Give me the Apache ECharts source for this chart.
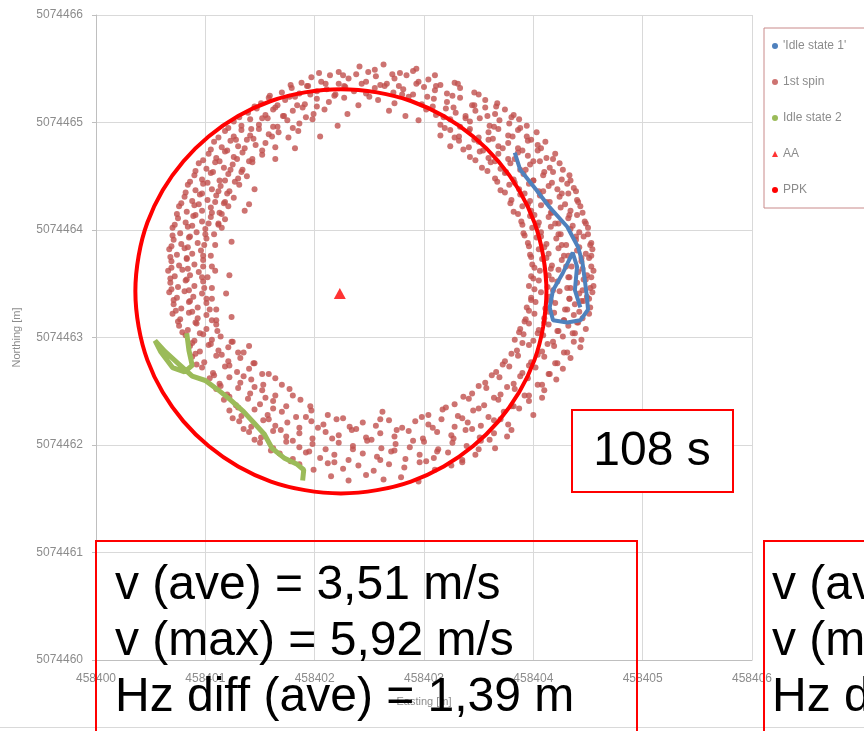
<!DOCTYPE html>
<html><head><meta charset="utf-8">
<script src="https://cdn.jsdelivr.net/npm/echarts/dist/echarts.min.js"></script>
<style>html,body{margin:0;padding:0;background:#fff}#c{width:864px;height:731px}</style>
</head><body><div id="c"></div>
<script>
// ---------- chart values ----------
const eastingRange = [458400, 458406];
const northingRange = [5074460, 5074466];
const tickStep = 1;
const legendNames = ["'Idle state 1'", "1st spin", "Idle state 2", "AA", "PPK"];
const axisNames = ["Easting [m]", "Northing [m]"];
const durationLabel = "108 s";
const statLines = ["v (ave) = 3,51 m/s", "v (max) = 5,92 m/s", "Hz diff (ave) = 1,39 m"];
const statLinesRight = ["v (ave) = ", "v (max) = ", "Hz diff (ave) = "];

const aaPoint = [[458402.23, 5074463.41]];

const idle1Path = [
[458403.83,5074464.72],[458403.88,5074464.56],[458404.03,5074464.37],[458404.15,5074464.21],[458404.31,5074464.03],
[458404.41,5074463.84],[458404.45,5074463.69],[458404.47,5074463.54],[458404.49,5074463.38],[458404.50,5074463.26],
[458404.43,5074463.16],[458404.31,5074463.14],[458404.18,5074463.16],[458404.15,5074463.28],[458404.18,5074463.44],
[458404.27,5074463.60],[458404.36,5074463.79],[458404.40,5074463.66],[458404.38,5074463.44],[458404.43,5074463.28]
];

const idle2Path = [
[458400.83,5074463.04],[458400.85,5074462.88],[458400.88,5074462.74],[458400.81,5074462.68],[458400.70,5074462.72],
[458400.59,5074462.87],[458400.54,5074462.97],[458400.63,5074462.87],[458400.75,5074462.76],[458400.88,5074462.64],
[458401.00,5074462.60],[458401.12,5074462.51],[458401.23,5074462.42],[458401.35,5074462.31],[458401.45,5074462.20],
[458401.54,5074462.10],[458401.61,5074461.97],[458401.72,5074461.88],[458401.84,5074461.82],[458401.90,5074461.77],
[458401.89,5074461.67]
];

const ppkCircle = [
[458404.09,5074463.10],[458404.12,5074463.43],[458404.09,5074463.76],[458404.01,5074464.07],[458403.87,5074464.37],
[458403.68,5074464.64],[458403.45,5074464.87],[458403.18,5074465.06],[458402.88,5074465.20],[458402.57,5074465.28],
[458402.24,5074465.31],[458401.91,5074465.28],[458401.60,5074465.20],[458401.30,5074465.06],[458401.03,5074464.87],
[458400.80,5074464.64],[458400.61,5074464.37],[458400.47,5074464.07],[458400.39,5074463.76],[458400.36,5074463.43],
[458400.39,5074463.10],[458400.47,5074462.79],[458400.61,5074462.49],[458400.80,5074462.22],[458401.03,5074461.99],
[458401.30,5074461.80],[458401.60,5074461.66],[458401.91,5074461.58],[458402.24,5074461.55],[458402.57,5074461.58],
[458402.88,5074461.66],[458403.18,5074461.80],[458403.45,5074461.99],[458403.68,5074462.22],[458403.87,5074462.49],
[458404.01,5074462.79],[458404.09,5074463.10],[458404.12,5074463.43],[458404.09,5074463.76]
];

const spinPointsA = [
[458402.22,5074465.47],[458402.41,5074465.52],[458402.55,5074465.49],[458402.63,5074465.54],[458402.78,5074465.46],[458402.93,5074465.50],
[458401.88,5074465.37],[458401.97,5074465.42],[458402.06,5074465.38],[458402.14,5074465.44],[458402.22,5074465.36],[458402.31,5074465.41],[458402.38,5074465.45],[458402.47,5074465.38],[458402.56,5074465.43],[458402.66,5074465.36],[458402.73,5074465.41],[458402.84,5074465.44],[458402.95,5074465.38],[458403.04,5074465.40],[458403.15,5074465.35],[458403.28,5074465.37],
[458401.70,5074465.28],[458401.79,5074465.32],[458401.86,5074465.27],[458401.94,5074465.34],[458402.02,5074465.29],[458402.11,5074465.31],[458402.19,5074465.26],[458402.28,5074465.33],[458402.36,5074465.29],[458402.47,5074465.27],[458402.55,5074465.32],[458402.64,5074465.34],[458402.72,5074465.28],[458402.81,5074465.31],[458402.90,5074465.26],[458403.00,5074465.33],[458403.10,5074465.30],[458403.21,5074465.27],[458403.33,5074465.32],[458403.46,5074465.28],
[458401.51,5074465.18],[458401.58,5074465.23],[458401.66,5074465.16],[458401.73,5074465.21],[458401.82,5074465.24],[458401.91,5074465.17],[458402.02,5074465.22],[458402.13,5074465.19],[458402.27,5074465.23],[458402.40,5074465.16],[458402.58,5074465.21],[458402.73,5074465.18],[458402.86,5074465.24],[458402.98,5074465.17],[458403.09,5074465.22],[458403.21,5074465.19],[458403.33,5074465.23],[458403.44,5074465.16],[458403.56,5074465.21],[458403.67,5074465.18],
[458401.39,5074465.09],[458401.47,5074465.13],[458401.55,5074465.07],[458401.62,5074465.12],[458401.71,5074465.06],[458401.80,5074465.11],[458401.89,5074465.14],[458401.99,5074465.08],[458402.09,5074465.12],
[458402.30,5074465.08],[458402.68,5074465.11],[458402.83,5074465.06],
[458403.02,5074465.12],[458403.11,5074465.07],[458403.20,5074465.13],[458403.29,5074465.09],[458403.38,5074465.06],[458403.47,5074465.11],[458403.56,5074465.14],[458403.65,5074465.08],[458403.74,5074465.12],[458403.82,5074465.07],
[458401.26,5074465.01],[458401.33,5074464.97],[458401.41,5074465.03],[458401.49,5074464.98],[458401.57,5074465.04],[458401.66,5074464.96],[458401.75,5074465.02],[458401.86,5074464.99],[458401.98,5074465.03],
[458402.21,5074464.97],[458402.95,5074465.02],
[458403.15,5074464.98],[458403.24,5074465.03],[458403.33,5074464.96],[458403.42,5074465.01],[458403.51,5074465.04],[458403.60,5074464.97],[458403.69,5074465.02],[458403.78,5074464.99],[458403.87,5074465.03],[458403.94,5074464.97],
[458401.18,5074464.92],[458401.26,5074464.87],[458401.33,5074464.93],[458401.41,5074464.88],[458401.49,5074464.94],[458401.58,5074464.89],[458401.67,5074464.91],[458401.76,5074464.86],[458401.85,5074464.92],
[458403.15,5074464.88],[458403.24,5074464.93],[458403.32,5074464.87],[458403.41,5074464.92],[458403.50,5074464.86],[458403.59,5074464.91],[458403.68,5074464.94],[458403.77,5074464.88],[458403.86,5074464.93],[458403.94,5074464.87],[458404.03,5074464.91],
[458402.05,5074464.87],
[458401.08,5074464.82],[458401.15,5074464.77],[458401.23,5074464.83],[458401.30,5074464.78],[458401.38,5074464.84],[458401.46,5074464.79],[458401.55,5074464.81],[458401.64,5074464.77],
[458403.24,5074464.78],[458403.32,5074464.83],[458403.41,5074464.77],[458403.50,5074464.82],[458403.59,5074464.84],[458403.68,5074464.78],[458403.77,5074464.81],[458403.86,5074464.76],[458403.95,5074464.83],[458404.04,5074464.79],[458404.11,5074464.82],
[458401.82,5074464.76],
[458401.03,5074464.71],[458401.10,5074464.67],[458401.18,5074464.73],[458401.26,5074464.68],[458401.34,5074464.72],[458401.43,5074464.66],[458401.52,5074464.70],
[458403.42,5074464.68],[458403.51,5074464.73],[458403.59,5074464.67],[458403.68,5074464.71],[458403.77,5074464.66],[458403.86,5074464.72],[458403.95,5074464.69],[458404.04,5074464.74],[458404.12,5074464.67],[458404.20,5074464.71],
[458401.64,5074464.66],
[458400.94,5074464.62],[458401.01,5074464.57],[458401.09,5074464.63],[458401.17,5074464.58],[458401.25,5074464.61],[458401.34,5074464.56],[458401.43,5074464.63],
[458403.53,5074464.58],[458403.61,5074464.63],[458403.70,5074464.57],[458403.79,5074464.62],[458403.88,5074464.56],[458403.97,5074464.61],[458404.06,5074464.64],[458404.15,5074464.58],[458404.24,5074464.62],
[458400.90,5074464.51],[458400.97,5074464.47],[458401.05,5074464.53],[458401.13,5074464.46],[458401.21,5074464.52],[458401.30,5074464.48],[458401.38,5074464.50],
[458403.65,5074464.48],[458403.74,5074464.53],[458403.82,5074464.47],[458403.91,5074464.52],[458404.00,5074464.46],[458404.09,5074464.51],[458404.18,5074464.54],[458404.26,5074464.47],[458404.33,5074464.51],
[458400.84,5074464.42],[458400.91,5074464.37],[458400.98,5074464.43],[458401.06,5074464.38],[458401.14,5074464.41],[458401.22,5074464.36],[458401.31,5074464.42],
[458403.70,5074464.37],[458403.78,5074464.42],[458403.87,5074464.38],[458403.96,5074464.43],[458404.05,5074464.36],[458404.14,5074464.41],[458404.22,5074464.38],[458404.31,5074464.43],[458404.37,5074464.39],
[458401.45,5074464.38],
[458400.81,5074464.31],[458400.88,5074464.27],[458400.95,5074464.33],[458401.02,5074464.28],[458401.10,5074464.32],[458401.18,5074464.26],[458401.26,5074464.30],
[458403.80,5074464.28],[458403.88,5074464.33],[458403.97,5074464.27],[458404.06,5074464.32],[458404.15,5074464.26],[458404.24,5074464.31],[458404.32,5074464.34],[458404.40,5074464.28],
[458400.76,5074464.22],[458400.83,5074464.17],[458400.90,5074464.23],[458400.97,5074464.18],[458401.05,5074464.21],[458401.13,5074464.16],[458401.21,5074464.22],
[458403.82,5074464.17],[458403.90,5074464.22],[458403.98,5074464.18],[458404.07,5074464.23],[458404.16,5074464.16],[458404.25,5074464.21],[458404.34,5074464.18],[458404.43,5074464.22],
[458401.36,5074464.18],[458401.40,5074464.24],
[458400.75,5074464.11],[458400.82,5074464.07],[458400.89,5074464.13],[458400.97,5074464.08],[458401.05,5074464.12],[458401.12,5074464.06],[458401.18,5074464.10],
[458403.89,5074464.08],[458403.97,5074464.13],[458404.05,5074464.07],[458404.14,5074464.12],[458404.23,5074464.06],[458404.32,5074464.11],[458404.40,5074464.14],[458404.47,5074464.08],
[458400.70,5074464.02],[458400.77,5074463.97],[458400.84,5074464.03],[458400.92,5074463.98],[458401.00,5074464.01],[458401.08,5074463.96],[458401.15,5074464.02],
[458403.91,5074463.97],[458403.99,5074464.02],[458404.07,5074463.98],[458404.16,5074464.03],[458404.25,5074463.96],[458404.34,5074464.01],[458404.42,5074463.98],[458404.50,5074464.02],
[458400.71,5074463.91],[458400.78,5074463.87],[458400.85,5074463.93],[458400.93,5074463.88],[458401.01,5074463.92],[458401.09,5074463.86],
[458403.95,5074463.88],[458404.03,5074463.93],[458404.12,5074463.87],[458404.21,5074463.92],[458404.30,5074463.86],[458404.39,5074463.91],[458404.46,5074463.94],[458404.53,5074463.88],
[458401.24,5074463.89],
[458400.67,5074463.82],[458400.74,5074463.77],[458400.81,5074463.83],[458400.88,5074463.78],[458400.96,5074463.81],[458401.05,5074463.76],
[458403.97,5074463.77],[458404.05,5074463.82],[458404.14,5074463.78],[458404.23,5074463.83],[458404.32,5074463.76],[458404.40,5074463.81],[458404.48,5074463.78],[458404.54,5074463.82],
[458400.69,5074463.71],[458400.76,5074463.67],[458400.83,5074463.73],[458400.90,5074463.68],[458400.98,5074463.72],[458401.06,5074463.66],
[458403.99,5074463.68],[458404.08,5074463.73],[458404.17,5074463.67],[458404.26,5074463.72],[458404.35,5074463.66],[458404.44,5074463.71],[458404.51,5074463.74],
[458400.66,5074463.62],[458400.72,5074463.57],[458400.79,5074463.63],[458400.86,5074463.58],[458400.94,5074463.61],[458401.02,5074463.56],[458401.09,5074463.62],
[458403.98,5074463.57],[458404.06,5074463.62],[458404.14,5074463.58],[458404.23,5074463.63],[458404.32,5074463.56],[458404.41,5074463.61],[458404.49,5074463.58],[458404.55,5074463.62],
[458401.22,5074463.58],
[458400.68,5074463.51],[458400.75,5074463.47],[458400.82,5074463.53],[458400.90,5074463.48],[458400.98,5074463.52],[458401.06,5074463.46],
[458403.96,5074463.48],[458404.05,5074463.53],[458404.13,5074463.47],[458404.22,5074463.52],[458404.31,5074463.46],[458404.40,5074463.51],[458404.48,5074463.54],[458404.55,5074463.48],
[458400.67,5074463.42],[458400.74,5074463.37],[458400.81,5074463.43],[458400.89,5074463.38],[458400.97,5074463.41],[458401.06,5074463.36],
[458403.98,5074463.37],[458404.07,5074463.42],[458404.15,5074463.38],[458404.24,5074463.43],[458404.33,5074463.36],[458404.42,5074463.41],[458404.49,5074463.38],[458404.54,5074463.42],
[458401.19,5074463.41],
[458400.71,5074463.31],[458400.78,5074463.27],[458400.85,5074463.33],[458400.93,5074463.28],[458401.01,5074463.32],[458401.10,5074463.26],
[458403.94,5074463.28],[458404.02,5074463.33],[458404.11,5074463.27],[458404.20,5074463.32],[458404.29,5074463.26],[458404.38,5074463.31],[458404.46,5074463.34],[458404.52,5074463.28],
[458400.70,5074463.22],[458400.77,5074463.17],[458400.85,5074463.23],[458400.93,5074463.18],[458401.01,5074463.21],[458401.10,5074463.16],
[458403.93,5074463.17],[458404.01,5074463.22],[458404.10,5074463.18],[458404.19,5074463.23],[458404.28,5074463.16],[458404.37,5074463.21],[458404.45,5074463.18],[458404.51,5074463.22],
[458401.24,5074463.19],
[458400.76,5074463.11],[458400.84,5074463.07],[458400.92,5074463.13],[458401.01,5074463.08],[458401.10,5074463.12],
[458403.88,5074463.08],[458403.96,5074463.13],[458404.05,5074463.07],[458404.14,5074463.12],[458404.23,5074463.06],[458404.32,5074463.11],[458404.41,5074463.14],[458404.48,5074463.08],
[458400.82,5074463.02],[458400.90,5074462.97],[458400.98,5074463.03],[458401.06,5074462.98],[458401.14,5074463.01],[458401.24,5074462.96],
[458403.83,5074462.98],[458403.91,5074463.03],[458404.00,5074462.97],[458404.09,5074463.02],[458404.18,5074462.96],[458404.27,5074463.01],[458404.36,5074463.04],[458404.44,5074462.98],
[458400.86,5074462.92],[458400.95,5074462.87],[458401.03,5074462.93],[458401.12,5074462.88],[458401.21,5074462.91],[458401.30,5074462.86],[458401.40,5074462.92],
[458403.85,5074462.88],[458403.96,5074462.93],[458404.08,5074462.87],[458404.19,5074462.92],[458404.31,5074462.86],[458404.43,5074462.91],
[458400.88,5074462.82],[458400.99,5074462.77],[458401.10,5074462.83],[458401.21,5074462.78],[458401.32,5074462.81],[458401.44,5074462.76],
[458403.74,5074462.78],[458403.86,5074462.83],[458403.98,5074462.77],[458404.10,5074462.82],[458404.22,5074462.76],[458404.34,5074462.81],
[458400.97,5074462.72],[458401.07,5074462.67],[458401.18,5074462.73],[458401.29,5074462.68],[458401.40,5074462.71],[458401.52,5074462.66],
[458403.66,5074462.68],[458403.78,5074462.73],[458403.90,5074462.67],[458404.02,5074462.72],[458404.14,5074462.66],[458404.27,5074462.71],
[458401.64,5074462.62],
[458401.04,5074462.62],[458401.13,5074462.57],[458401.22,5074462.63],[458401.32,5074462.58],[458401.42,5074462.61],[458401.53,5074462.56],
[458403.56,5074462.58],[458403.69,5074462.63],[458403.82,5074462.57],[458403.95,5074462.62],[458404.08,5074462.56],[458404.21,5074462.61],
[458401.10,5074462.52],[458401.20,5074462.47],[458401.30,5074462.53],[458401.41,5074462.48],[458401.52,5074462.51],[458401.64,5074462.46],[458401.77,5074462.52],
[458403.44,5074462.48],[458403.57,5074462.53],[458403.70,5074462.47],[458403.83,5074462.52],[458403.96,5074462.46],[458404.10,5074462.51],
[458401.17,5074462.42],[458401.28,5074462.37],[458401.39,5074462.43],[458401.50,5074462.38],[458401.62,5074462.41],[458401.74,5074462.36],[458401.87,5074462.42],
[458403.28,5074462.38],[458403.41,5074462.43],[458403.55,5074462.37],[458403.68,5074462.42],[458403.82,5074462.36],[458403.96,5074462.41],[458404.08,5074462.44],
[458401.22,5074462.32],[458401.33,5074462.27],[458401.45,5074462.33],[458401.57,5074462.28],[458401.70,5074462.31],[458401.83,5074462.26],[458401.97,5074462.32],[458402.12,5074462.28],
[458403.04,5074462.28],[458403.17,5074462.33],[458403.31,5074462.27],[458403.45,5074462.32],[458403.59,5074462.26],[458403.73,5074462.31],[458403.87,5074462.34],[458404.00,5074462.28],
[458402.62,5074462.31],
[458401.31,5074462.22],[458401.42,5074462.17],[458401.53,5074462.23],[458401.64,5074462.18],[458401.75,5074462.21],[458401.86,5074462.16],[458401.97,5074462.22],[458402.08,5074462.19],[458402.20,5074462.24],[458402.32,5074462.17],[458402.44,5074462.21],[458402.56,5074462.18],[458402.68,5074462.23],[458402.80,5074462.16],[458402.92,5074462.22],[458403.04,5074462.19],[458403.16,5074462.24],[458403.28,5074462.17],[458403.40,5074462.21],[458403.52,5074462.18],[458403.64,5074462.23],[458403.77,5074462.19],
[458401.40,5074462.12],[458401.51,5074462.07],[458401.62,5074462.13],[458401.74,5074462.08],[458401.86,5074462.11],[458401.98,5074462.06],[458402.10,5074462.12],[458402.22,5074462.09],[458402.34,5074462.14],[458402.47,5074462.07],[458402.60,5074462.11],[458402.73,5074462.08],[458402.86,5074462.13],[458402.99,5074462.06],[458403.12,5074462.12],[458403.25,5074462.09],[458403.38,5074462.14],[458403.51,5074462.07],[458403.64,5074462.11],[458403.76,5074462.08],
[458401.50,5074462.02],[458401.62,5074461.97],[458401.74,5074462.03],[458401.86,5074461.98],[458401.98,5074462.01],[458402.10,5074461.96],[458402.22,5074462.02],[458402.35,5074461.99],[458402.48,5074462.04],[458402.61,5074461.97],[458402.74,5074462.01],[458402.87,5074461.98],[458403.00,5074462.03],[458403.13,5074461.96],[458403.26,5074462.02],[458403.39,5074461.99],[458403.52,5074462.04],[458403.65,5074461.97],
[458401.68,5074461.92],[458401.80,5074461.87],[458401.92,5074461.93],[458402.05,5074461.88],[458402.18,5074461.91],[458402.31,5074461.86],[458402.44,5074461.92],[458402.57,5074461.89],[458402.70,5074461.94],[458402.83,5074461.87],[458402.96,5074461.91],[458403.09,5074461.88],[458403.22,5074461.93],[458403.35,5074461.86],[458403.47,5074461.91],
[458401.86,5074461.82],[458401.99,5074461.77],[458402.12,5074461.83],[458402.26,5074461.78],[458402.40,5074461.81],[458402.54,5074461.76],[458402.68,5074461.82],[458402.82,5074461.79],[458402.96,5074461.84],[458403.10,5074461.77],[458403.25,5074461.81],
[458402.15,5074461.71],[458402.31,5074461.67],[458402.47,5074461.72],[458402.63,5074461.68],[458402.79,5074461.70],[458402.95,5074461.66]
];

const spinPointsB = [
[458402.04,5074465.46],[458402.26,5074465.44],[458402.49,5074465.47],[458402.71,5074465.45],[458402.90,5074465.48],[458403.10,5074465.44],
[458401.78,5074465.35],[458401.93,5074465.34],[458402.10,5074465.36],[458402.27,5074465.34],[458402.43,5074465.36],[458402.60,5074465.35],[458402.77,5074465.34],[458402.93,5074465.36],[458403.11,5074465.34],[458403.31,5074465.36],
[458401.59,5074465.25],[458401.77,5074465.24],[458401.96,5074465.26],[458402.18,5074465.25],[458402.50,5074465.24],[458402.80,5074465.26],[458403.03,5074465.24],[458403.26,5074465.25],[458403.50,5074465.26],
[458401.45,5074465.15],[458401.64,5074465.14],[458401.84,5074465.16],[458402.02,5074465.15],[458403.08,5074465.15],[458403.27,5074465.14],[458403.46,5074465.16],[458403.66,5074465.15],
[458401.31,5074465.05],[458401.52,5074465.04],[458401.72,5074465.06],[458401.92,5074465.05],[458403.18,5074465.05],[458403.38,5074465.04],[458403.58,5074465.06],[458403.80,5074465.05],
[458401.21,5074464.95],[458401.42,5074464.94],[458401.62,5074464.96],[458401.80,5074464.95],[458403.19,5074464.95],[458403.42,5074464.94],[458403.64,5074464.96],[458403.88,5074464.95],
[458401.12,5074464.86],[458401.28,5074464.84],[458401.44,5074464.85],[458401.61,5074464.87],
[458401.05,5074464.75],[458401.20,5074464.74],[458401.36,5074464.76],[458401.52,5074464.74],
[458400.98,5074464.65],[458401.13,5074464.64],[458401.29,5074464.66],[458401.40,5074464.64],
[458400.91,5074464.55],[458401.07,5074464.54],[458401.23,5074464.56],[458401.33,5074464.54],
[458400.86,5074464.45],[458401.02,5074464.44],[458401.18,5074464.46],[458401.27,5074464.45],
[458400.82,5074464.35],[458400.97,5074464.34],[458401.12,5074464.36],[458401.20,5074464.34],
[458400.78,5074464.25],[458400.94,5074464.24],[458401.09,5074464.26],[458401.17,5074464.25],
[458400.74,5074464.15],[458400.91,5074464.14],[458401.06,5074464.16],[458401.15,5074464.15],
[458400.72,5074464.05],[458400.88,5074464.04],[458401.03,5074464.06],[458401.12,5074464.05],
[458400.70,5074463.95],[458400.86,5074463.94],[458401.00,5074463.96],
[458400.69,5074463.85],[458400.84,5074463.84],[458400.99,5074463.86],
[458400.68,5074463.75],[458400.83,5074463.74],[458400.98,5074463.76],
[458400.69,5074463.65],[458400.84,5074463.64],[458400.98,5074463.66],
[458400.68,5074463.55],[458400.83,5074463.54],[458400.97,5074463.56],
[458400.69,5074463.45],[458400.85,5074463.44],[458400.99,5074463.46],
[458400.71,5074463.35],[458400.86,5074463.34],[458401.01,5074463.36],
[458400.73,5074463.25],[458400.88,5074463.24],[458401.04,5074463.26],
[458400.75,5074463.15],[458400.91,5074463.14],[458401.06,5074463.16],
[458400.79,5074463.05],[458400.95,5074463.04],[458401.11,5074463.06],
[458403.28,5074464.86],[458403.46,5074464.84],[458403.63,5074464.85],[458403.81,5074464.87],[458403.98,5074464.84],
[458403.36,5074464.75],[458403.54,5074464.74],[458403.72,5074464.76],[458403.90,5074464.74],[458404.07,5074464.76],
[458403.47,5074464.65],[458403.65,5074464.64],[458403.83,5074464.66],[458404.00,5074464.64],[458404.18,5074464.66],
[458403.58,5074464.55],[458403.75,5074464.54],[458403.93,5074464.56],[458404.10,5074464.54],[458404.27,5074464.56],
[458403.67,5074464.45],[458403.83,5074464.44],[458404.00,5074464.46],[458404.17,5074464.44],[458404.34,5074464.46],
[458403.74,5074464.35],[458403.92,5074464.34],[458404.09,5074464.36],[458404.26,5074464.34],[458404.39,5074464.36],
[458403.79,5074464.25],[458403.95,5074464.24],[458404.12,5074464.26],[458404.29,5074464.24],[458404.41,5074464.26],
[458403.86,5074464.15],[458404.01,5074464.14],[458404.17,5074464.16],[458404.33,5074464.14],[458404.45,5074464.16],
[458403.90,5074464.05],[458404.04,5074464.04],[458404.20,5074464.06],[458404.36,5074464.04],[458404.48,5074464.06],
[458403.92,5074463.95],[458404.07,5074463.94],[458404.23,5074463.96],[458404.39,5074463.94],[458404.50,5074463.96],
[458403.96,5074463.85],[458404.10,5074463.84],[458404.26,5074463.86],[458404.42,5074463.84],[458404.52,5074463.86],
[458403.98,5074463.75],[458404.12,5074463.74],[458404.28,5074463.76],[458404.44,5074463.74],[458404.53,5074463.76],
[458404.01,5074463.65],[458404.16,5074463.64],[458404.30,5074463.66],[458404.45,5074463.64],[458404.53,5074463.66],
[458404.00,5074463.55],[458404.17,5074463.54],[458404.33,5074463.56],[458404.46,5074463.54],[458404.53,5074463.56],
[458404.01,5074463.45],[458404.18,5074463.44],[458404.34,5074463.46],[458404.45,5074463.44],[458404.52,5074463.46],
[458403.98,5074463.35],[458404.16,5074463.34],[458404.33,5074463.36],[458404.44,5074463.34],[458404.51,5074463.36],
[458403.96,5074463.25],[458404.14,5074463.24],[458404.31,5074463.26],[458404.42,5074463.24],
[458403.92,5074463.15],[458404.10,5074463.14],[458404.28,5074463.16],[458404.40,5074463.14],
[458403.87,5074463.05],[458404.04,5074463.04],[458404.22,5074463.06],[458404.38,5074463.04],
[458400.88,5074462.95],[458401.05,5074462.94],[458401.25,5074462.96],
[458400.91,5074462.85],[458401.15,5074462.84],[458401.35,5074462.86],
[458400.92,5074462.75],[458401.22,5074462.74],[458401.45,5074462.76],
[458401.08,5074462.65],[458401.35,5074462.64],[458401.58,5074462.66],
[458401.14,5074462.55],[458401.45,5074462.54],[458401.70,5074462.56],
[458401.22,5074462.45],[458401.55,5074462.44],[458401.80,5074462.46],
[458401.30,5074462.35],[458401.62,5074462.34],[458401.96,5074462.36],
[458403.90,5074462.95],[458404.13,5074462.94],[458404.37,5074462.96],
[458403.80,5074462.85],[458404.04,5074462.84],[458404.28,5074462.86],
[458403.72,5074462.75],[458403.96,5074462.74],[458404.20,5074462.76],
[458403.62,5074462.65],[458403.88,5074462.64],[458404.15,5074462.66],
[458403.50,5074462.55],[458403.76,5074462.54],[458404.04,5074462.56],
[458403.36,5074462.45],[458403.64,5074462.44],[458403.92,5074462.46],
[458403.20,5074462.35],[458403.50,5074462.34],[458403.80,5074462.36],
[458401.25,5074462.25],[458401.58,5074462.24],[458401.92,5074462.26],[458402.26,5074462.25],[458402.60,5074462.24],[458402.98,5074462.26],[458403.35,5074462.25],[458403.70,5074462.24],
[458401.35,5074462.15],[458401.69,5074462.14],[458402.03,5074462.16],[458402.38,5074462.15],[458402.75,5074462.14],[458403.08,5074462.16],[458403.44,5074462.15],[458403.80,5074462.14],
[458401.45,5074462.05],[458401.80,5074462.04],[458402.16,5074462.06],[458402.52,5074462.05],[458402.90,5074462.04],[458403.27,5074462.06],[458403.60,5074462.05],
[458401.60,5074461.95],[458401.95,5074461.94],[458402.35,5074461.96],[458402.73,5074461.95],[458403.12,5074461.94],[458403.50,5074461.96],
[458401.78,5074461.85],[458402.18,5074461.84],[458402.60,5074461.86],[458403.02,5074461.85],[458403.35,5074461.84]
];

const spinPoints = spinPointsA.concat(spinPointsB);

// ---------- chart ----------
const chart = echarts.init(document.getElementById('c'), null, {renderer: 'canvas'});
const labelFont = {fontFamily: 'Liberation Sans, Arial, sans-serif', fontSize: 12, color: '#8c8c8c'};
const bigFont = '48px "Liberation Sans", Arial, sans-serif';

const graphics = [
  {type: 'line', shape: {x1: 0, y1: 727.5, x2: 864, y2: 727.5}, style: {stroke: '#d9d9d9', lineWidth: 1}, z: 90},
  {type: 'rect', shape: {x: 572, y: 410, width: 161, height: 82}, style: {fill: '#ffffff', stroke: '#ff0000', lineWidth: 2}, z: 100},
  {type: 'text', x: 652, y: 452, style: {text: durationLabel, font: bigFont, fill: '#000', align: 'center', verticalAlign: 'middle'}, z: 101},
  {type: 'rect', shape: {x: 96, y: 541, width: 541, height: 230}, style: {fill: 'none', stroke: '#ff0000', lineWidth: 2}, z: 100},
  {type: 'rect', shape: {x: 764, y: 541, width: 200, height: 230}, style: {fill: 'none', stroke: '#ff0000', lineWidth: 2}, z: 100}
];
statLines.forEach((t, i) => graphics.push({type: 'text', x: 115, y: 586 + i * 56,
  style: {text: t, font: bigFont, fill: '#000', align: 'left', verticalAlign: 'middle'}, z: 101}));
statLinesRight.forEach((t, i) => graphics.push({type: 'text', x: 772, y: 586 + i * 56,
  style: {text: t, font: bigFont, fill: '#000', align: 'left', verticalAlign: 'middle'}, z: 101}));

chart.setOption({
  animation: false,
  backgroundColor: '#ffffff',
  grid: {left: 96, right: 112, top: 15, bottom: 71, containLabel: false},
  legend: {
    orient: 'vertical', left: 764, top: 28,
    data: [
      {name: legendNames[0], icon: 'circle'},
      {name: legendNames[1], icon: 'circle'},
      {name: legendNames[2], icon: 'circle'},
      {name: legendNames[3], icon: 'triangle'},
      {name: legendNames[4], icon: 'circle'}
    ],
    itemWidth: 6, itemHeight: 6, itemGap: 24,
    padding: [12, 60, 12, 8],
    borderColor: '#c98a8a', borderWidth: 1, backgroundColor: '#fff',
    textStyle: {fontFamily: 'Liberation Sans, Arial, sans-serif', fontSize: 12, color: '#8c8c8c'}
  },
  xAxis: {
    type: 'value', min: eastingRange[0], max: eastingRange[1], interval: tickStep,
    name: axisNames[0], nameLocation: 'middle', nameGap: 36,
    nameTextStyle: {fontFamily: 'Liberation Sans, Arial, sans-serif', fontSize: 11, color: '#8c8c8c'},
    axisLine: {show: true, lineStyle: {color: '#bfbfbf'}},
    axisTick: {show: false},
    splitLine: {show: true, lineStyle: {color: '#d9d9d9', width: 1}},
    axisLabel: Object.assign({margin: 13, formatter: v => String(v)}, labelFont)
  },
  yAxis: {
    type: 'value', min: northingRange[0], max: northingRange[1], interval: tickStep,
    name: axisNames[1], nameLocation: 'middle', nameGap: 74, nameRotate: 90,
    nameTextStyle: {fontFamily: 'Liberation Sans, Arial, sans-serif', fontSize: 11, color: '#8c8c8c'},
    axisLine: {show: true, lineStyle: {color: '#bfbfbf'}},
    axisTick: {show: true, length: 4, lineStyle: {color: '#bfbfbf'}},
    splitLine: {show: true, lineStyle: {color: '#d9d9d9', width: 1}},
    axisLabel: Object.assign({margin: 13, formatter: v => String(v)}, labelFont)
  },
  graphic: graphics,
  series: [
    {name: legendNames[1], type: 'scatter', data: spinPoints, symbol: 'circle', symbolSize: 6,
     itemStyle: {color: '#c0504d'}, z: 2},
    {name: legendNames[0], type: 'line', data: idle1Path, showSymbol: false, symbol: 'circle',
     lineStyle: {color: '#4f81bd', width: 4}, itemStyle: {color: '#4f81bd'}, z: 3},
    {name: legendNames[2], type: 'line', data: idle2Path, showSymbol: false, symbol: 'circle',
     lineStyle: {color: '#9bbb59', width: 5}, itemStyle: {color: '#9bbb59'}, z: 3},
    {name: legendNames[3], type: 'scatter', data: aaPoint, symbol: 'triangle', symbolSize: [12, 11],
     itemStyle: {color: '#ff0000'}, z: 4},
    {name: legendNames[4], type: 'line', data: ppkCircle, smooth: 0.4, showSymbol: false, symbol: 'circle',
     lineStyle: {color: '#ff0000', width: 4}, itemStyle: {color: '#ff0000'}, z: 5}
  ]
});
</script>
</body></html>
